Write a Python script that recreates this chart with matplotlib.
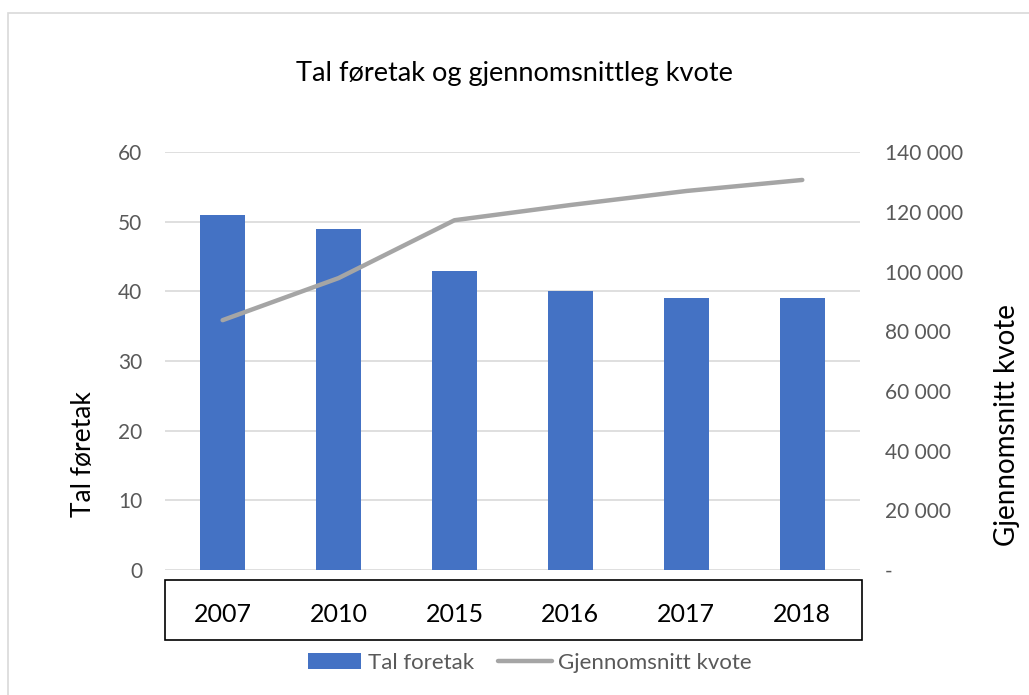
import matplotlib.pyplot as plt
from matplotlib.patches import Rectangle
from matplotlib.ticker import FuncFormatter

plt.rcParams['font.family'] = ['Lato', 'DejaVu Sans']

# data
years = ['2007', '2010', '2015', '2016', '2017', '2018']
tal_foretak = [51, 49, 43, 40, 39, 39]
snitt_kvote = [83700, 97800, 117200, 122300, 127000, 130700]

fig = plt.figure(figsize=(10.29, 6.95), dpi=100)
ax = fig.add_axes([0.160, 0.180, 0.676, 0.601])
ax2 = ax.twinx()

x = range(len(years))
ax.bar(x, tal_foretak, width=0.39, color='#4472c4', label='Tal foretak', zorder=3)
ax2.plot(x, snitt_kvote, color='#a5a5a5', lw=3.2, solid_capstyle='round', label='Gjennomsnitt kvote')

ax.set_xlim(-0.5, 5.5)
ax.set_ylim(0, 60)
ax.set_yticks(range(0, 61, 10))
ax2.set_ylim(0, 140000)
ax2.set_yticks(range(0, 140001, 20000))
ax2.yaxis.set_major_formatter(FuncFormatter(lambda v, p: '-' if v == 0 else f'{int(v):,}'.replace(',', ' ')))

ax.grid(axis='y', color='#d9d9d9', lw=1.2, zorder=0)
ax.set_axisbelow(True)
for a in (ax, ax2):
    for s in a.spines.values():
        s.set_visible(False)
    a.tick_params(length=0)

ax.tick_params(axis='y', labelsize=15, labelcolor='#595959', pad=16)
ax2.tick_params(axis='y', labelsize=15, labelcolor='#595959', pad=18)
ax.set_xticks(list(x))
ax.set_xticklabels(years, fontsize=18)
ax.tick_params(axis='x', pad=24)

# axis titles sit below the middle in the original
ax.set_ylabel('Tal føretak', fontsize=19)
ax.yaxis.set_label_coords(-0.098, 0.278)
ax2.set_ylabel('Gjennomsnitt kvote', fontsize=20)
ax2.yaxis.set_label_coords(1.192, 0.347)

fig.text(0.5, 1 - 73 / 695, 'Tal føretak og gjennomsnittleg kvote', ha='center', va='center', fontsize=19.5)

# box around the category labels
fig.patches.append(Rectangle((165 / 1029, 1 - 640 / 695), 697 / 1029, 60 / 695,
                             transform=fig.transFigure, fill=False, ec='black', lw=1.2))
# outer chart border
fig.patches.append(Rectangle((8 / 1029, -0.1), 1.2, 1.1 - 13 / 695,
                             transform=fig.transFigure, fill=False, ec='#d9d9d9', lw=1.2))

h1, l1 = ax.get_legend_handles_labels()
h2, l2 = ax2.get_legend_handles_labels()
fig.legend(h1 + h2, l1 + l2, loc='center', bbox_to_anchor=(0.515, 1 - 663 / 695), ncol=2,
           frameon=False, fontsize=16, labelcolor='#595959', handlelength=2.4,
           handletextpad=0.3, columnspacing=1.1)

fig.savefig('out.png', dpi=100)
